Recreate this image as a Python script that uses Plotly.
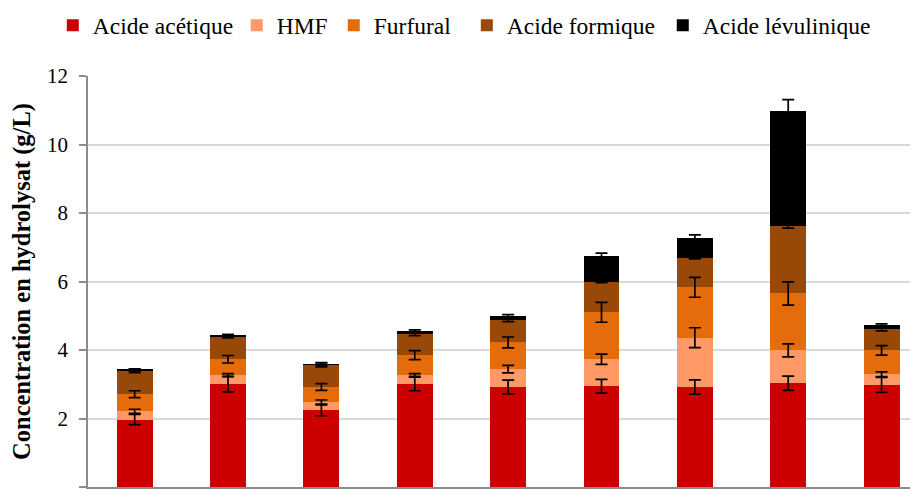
import plotly.graph_objects as go
import numpy as np

categories = ["1", "2", "3", "4", "5", "6", "7", "8", "9"]

acide_acetique = [1.97, 3.00, 2.24, 3.02, 2.92, 2.94, 2.92, 3.03, 2.98]
hmf            = [0.24, 0.27, 0.24, 0.24, 0.52, 0.79, 1.44, 0.96, 0.31]
furfural       = [0.50, 0.46, 0.44, 0.59, 0.78, 1.37, 1.47, 1.66, 0.70]
acide_formique = [0.68, 0.67, 0.65, 0.63, 0.67, 0.90, 0.85, 1.96, 0.63]
acide_levul    = [0.03, 0.02, 0.02, 0.08, 0.11, 0.75, 0.60, 3.36, 0.11]

err_acetique = [0.15, 0.22, 0.16, 0.21, 0.20, 0.20, 0.21, 0.21, 0.22]
err_hmf      = [0.06, 0.04, 0.06, 0.05, 0.11, 0.15, 0.29, 0.19, 0.07]
err_furfural = [0.10, 0.11, 0.10, 0.13, 0.16, 0.29, 0.29, 0.34, 0.14]
err_formique = [0.05, 0.05, 0.06, 0.06, 0.06, 0.03, 0.02, 0.05, 0.06]
err_levul    = [0.03, 0.03, 0.03, 0.03, 0.03, 0.08, 0.08, 0.34, 0.03]

series_names = ["Acide acétique", "HMF", "Furfural", "Acide formique", "Acide lévulinique"]
series_vals = [acide_acetique, hmf, furfural, acide_formique, acide_levul]
series_errs = [err_acetique, err_hmf, err_furfural, err_formique, err_levul]
colors = ["#CC0000", "#FF9966", "#E46C0A", "#984807", "#000000"]

FONT = "Liberation Serif"

legend_ids = ["legend", "legend2", "legend3", "legend4", "legend5"]
legend_x = [-0.0424, 0.1792, 0.2961, 0.4564, 0.6925]

fig = go.Figure()
for name, vals, col, lid in zip(series_names, series_vals, colors, legend_ids):
    fig.add_trace(go.Bar(x=categories, y=vals, name=name, legend=lid,
                         marker=dict(color=col, line=dict(width=0))))

# error bars drawn on top of the stack at each segment's cumulative top
cum = np.cumsum(np.array(series_vals), axis=0)
for i, errs in enumerate(series_errs):
    fig.add_trace(go.Scatter(x=categories, y=cum[i], mode="markers",
                             marker=dict(size=1, color="rgba(0,0,0,0)"),
                             error_y=dict(type="data", array=errs, visible=True,
                                          color="black", thickness=1.7, width=6),
                             showlegend=False, hoverinfo="skip"))

legend_layout = {}
for lid, lx in zip(legend_ids, legend_x):
    legend_layout[lid] = dict(orientation="h", x=lx, xanchor="left",
                              yref="container", y=0.964, yanchor="middle",
                              font=dict(family=FONT, size=23.5), itemwidth=30,
                              bgcolor="rgba(0,0,0,0)")

fig.update_layout(
    width=910, height=485,
    barmode="stack", bargap=0.615,
    plot_bgcolor="white", paper_bgcolor="white",
    margin=dict(l=80, r=0, t=68, b=6),
    font=dict(family=FONT, size=20, color="black"),
    **legend_layout,
)
fig.update_xaxes(range=[-0.5, 8.39], showticklabels=False, showgrid=False,
                 showline=True, linecolor="#8c8c8c", linewidth=2, ticks="")
fig.update_yaxes(range=[0, 12], dtick=2, showgrid=True, gridcolor="#d9d9d9", gridwidth=1.5,
                 showline=True, linecolor="#8c8c8c", linewidth=1.5,
                 ticks="outside", ticklen=7, tickcolor="#8c8c8c", tickwidth=1.5,
                 ticklabelstandoff=7, zeroline=False,
                 tickfont=dict(family=FONT, size=21),
                 title=dict(text="<b>Concentration en hydrolysat (g/L)</b>",
                            font=dict(family=FONT, size=24.5), standoff=10))

fig.write_html("out.html")
